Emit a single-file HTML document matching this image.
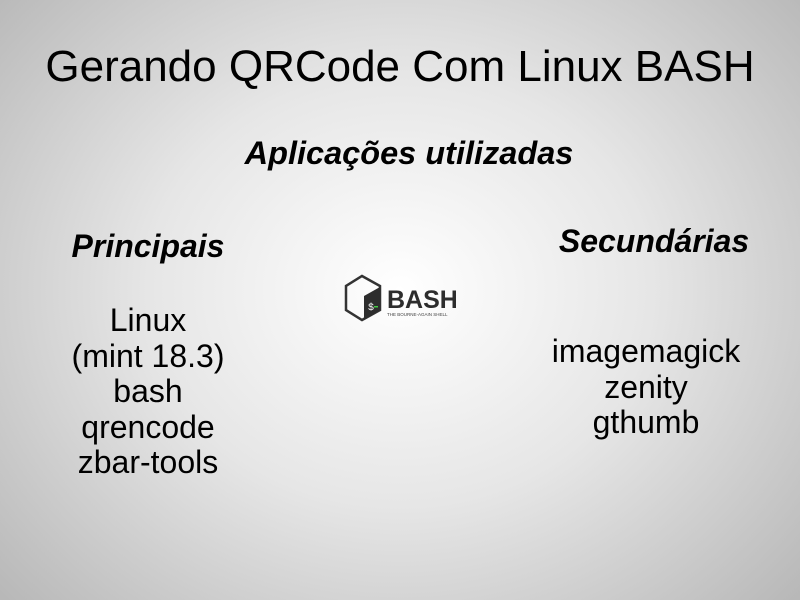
<!DOCTYPE html>
<html><head><meta charset="utf-8"><style>
body{margin:0;width:800px;height:600px;overflow:hidden;font-family:"Liberation Sans",sans-serif;color:#000;
background:radial-gradient(ellipse 560px 480px at 400px 290px,#ffffff 0%,#e6e6e6 45%,#b4b4b4 100%);position:relative}
.t{position:absolute;white-space:nowrap;transform:translateX(-50%)}
.bi{font-weight:bold;font-style:italic}
</style></head><body>
<div class="t" style="left:400px;top:42px;font-size:44px;">Gerando QRCode Com Linux BASH</div>
<div class="t bi" style="left:409px;top:135px;font-size:32.5px;">Aplicações utilizadas</div>
<div class="t bi" style="left:148px;top:228px;font-size:32px;">Principais</div>
<div class="t bi" style="left:654px;top:223px;font-size:32px;">Secundárias</div>
<div class="t" style="left:148px;top:303px;font-size:32px;line-height:35.5px;text-align:center">Linux<br>(mint 18.3)<br>bash<br>qrencode<br>zbar-tools</div>
<div class="t" style="left:646px;top:334px;font-size:32px;line-height:35.5px;text-align:center">imagemagick<br>zenity<br>gthumb</div>
<svg style="position:absolute;left:344px;top:274px" width="112" height="50">
<polygon points="18,2 36,12 36,36 18,46 2,36 2,12" fill="none" stroke="#333" stroke-width="2.5"/>
<polygon points="20,22 36,13 36,36 20,46" fill="#2d2d2d"/>
<text x="24" y="36" font-family="Liberation Mono" font-size="10" fill="#fff">$</text>
<rect x="30" y="32" width="4" height="1.5" fill="#4c4"/>
<text x="43" y="34" font-family="Liberation Sans" font-weight="bold" font-size="25" fill="#2d2d2d">BASH</text>
<text x="43" y="42" font-family="Liberation Sans" font-size="4.5" fill="#444">THE BOURNE-AGAIN SHELL</text>
</svg>
</body></html>
